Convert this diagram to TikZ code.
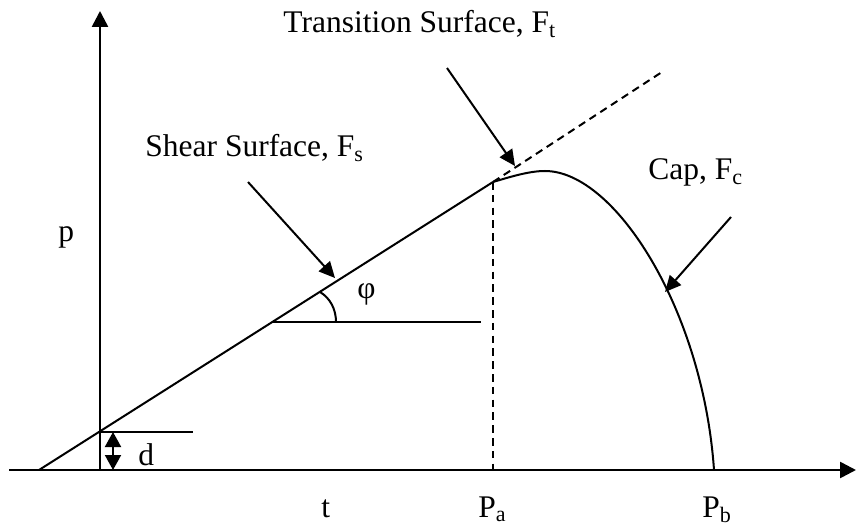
\documentclass[tikz,border=0pt]{standalone}
\usepackage{fontspec}
\setmainfont{Liberation Serif}
\usetikzlibrary{arrows.meta}
\begin{document}
\begin{tikzpicture}[x=0.5pt,y=-0.5pt,
  axis/.style={line width=1.3pt},
  ln/.style={line width=1pt},
  dsh/.style={line width=1pt, dash pattern=on 3.8pt off 2.6pt},
  ptr/.style={line width=1pt, -{Triangle[length=8pt,width=7.5pt]}},
  lbl/.style={inner sep=0pt, anchor=base west, font=\fontsize{15.75}{18}\selectfont}]
\useasboundingbox (0,0) rectangle (856,529);
% coordinates
\coordinate (xs) at (9,470);
\coordinate (xe) at (856,470);
\coordinate (O) at (100,470);
\coordinate (yt) at (100,11);
\coordinate (s0) at (39,470);
\coordinate (A) at (493,182);
\coordinate (Ad) at (662,72);
\coordinate (Pa) at (493,470);
\coordinate (D) at (100,432);
\coordinate (De) at (193,432);
\coordinate (da) at (113,432);
\coordinate (db) at (113,470);
\coordinate (V) at (272,322);
\coordinate (Ve) at (481,322);
\coordinate (Pk) at (545,171);
\coordinate (Pb) at (714,470);
% axes
\draw[axis,-{Triangle[length=8pt,width=8pt]}] (xs) -- (xe);
\draw[axis,-{Triangle[length=8pt,width=8pt]}] (O) -- (yt);
% shear line and extensions
\draw[ln] (s0) -- (A);
\draw[dsh] (A) -- (Ad);
\draw[dsh] (A) -- (Pa);
% d marker
\draw[ln] (D) -- (De);
\draw[ln,{Triangle[length=7.5pt,width=8pt]}-{Triangle[length=7.5pt,width=8pt]}] (da) -- (db);
% angle
\draw[ln] (V) -- (Ve);
\draw[ln] (336,322) .. controls (336,309) and (330,298) .. (320,292);
% cap
\draw[ln] (A) .. controls (513,176) and (530,171) .. (Pk)
              .. controls (615,171) and (703,310) .. (Pb);
% pointer arrows
\coordinate (sa) at (248,182);
\coordinate (sb) at (335,278);
\coordinate (ta) at (447,68);
\coordinate (tb) at (515,166);
\coordinate (ca) at (731,217);
\coordinate (cb) at (665,292);
\draw[ptr] (sa) -- (sb);
\draw[ptr] (ta) -- (tb);
\draw[ptr] (ca) -- (cb);
% labels
\node[lbl] (shear) at (145,157) {Shear Surface, F\textsubscript{s}};
\node[lbl] (trans) at (283,33) {Transition Surface, F\textsubscript{t}};
\node[lbl] (cap) at (648,180) {Cap, F\textsubscript{c}};
\node[lbl] (p) at (58,242) {p};
\node[lbl] (d) at (138,465) {d};
\node[lbl] (phi) at (357,298) {φ};
\node[lbl] (t) at (321,517) {t};
\node[lbl] (pa) at (478,517) {P\textsubscript{a}};
\node[lbl] (pb) at (702,517) {P\textsubscript{b}};
\end{tikzpicture}
\end{document}
